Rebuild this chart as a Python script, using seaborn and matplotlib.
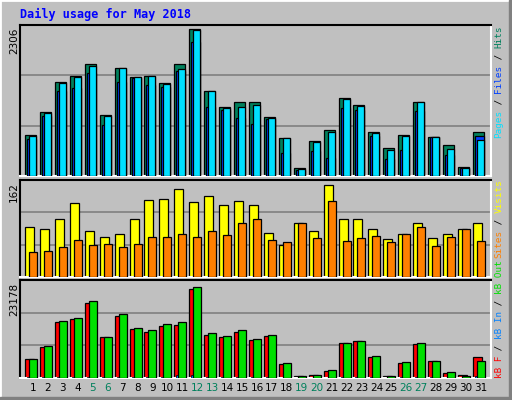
import matplotlib
matplotlib.use("Agg")
import matplotlib.pyplot as plt
import seaborn as sns
import numpy as np
from matplotlib.patches import Rectangle

sns.set_style("white")

days = list(range(1, 32))
weekend = [5, 6, 12, 13, 19, 20, 26, 27]
hits = [645,1001,1478,1567,1756,954,1693,1552,1567,1457,1756,2306,1336,1080,1159,1168,932,593,130,555,728,1231,1111,696,445,649,1168,618,492,146,696]
files = [624,986,1457,1552,1724,938,1693,1552,1567,1442,1677,2290,1336,1064,1080,1121,916,593,115,539,696,1215,1105,681,413,634,1168,618,429,130,571]
pages = [582,938,1336,1379,1614,797,1473,1536,1426,1394,1646,2102,1080,1033,907,817,896,362,94,393,283,1069,1037,629,267,409,1022,613,330,126,634]
visits = [88,85,101,130,80,71,76,101,136,137,155,132,143,127,134,127,78,57,94,81,162,101,102,85,67,76,94,69,76,85,95]
sites = [44,46,53,65,57,58,53,58,71,71,76,71,81,74,95,102,65,62,95,69,134,64,69,72,62,76,87,55,71,85,64]
kb_f = [4900,7795,14295,14904,19119,10334,15818,12365,11756,13279,13533,22673,10994,10486,11756,9572,10740,3631,432,838,1853,8810,9318,5256,432,3885,8556,4392,1346,686,5256]
kb_out = [4900,8049,14548,15158,19627,10486,16326,12619,12263,13787,14295,23178,11502,10740,12263,9826,10994,3885,432,838,2107,8963,9470,5510,584,4139,8963,4392,1600,584,4392]
kb_in = [200,300,300,300,300,200,300,300,300,300,700,700,300,300,300,300,200,100,100,100,100,300,300,200,100,200,300,200,100,100,600]
labels_max = ["2306", "162", "23178"]

BG = "#C0C0C0"
W, H = 512, 400
fig = plt.figure(figsize=(W/100, H/100), dpi=100, facecolor=BG)
# outer 3D frame
fig.patches.append(Rectangle((0, 0), 1, 1, transform=fig.transFigure, fill=False, ec="white", lw=2))
fig.patches.append(Rectangle((0, 0), 1, 3/H, transform=fig.transFigure, color="#808080"))
fig.patches.append(Rectangle((1-3/W, 0), 3/W, 1, transform=fig.transFigure, color="#808080"))

PX = 14.93
x = np.array(days, dtype=float)
x0 = x - 8/PX  # group left edge
xl = (1 - 13/PX, 1 + (491-33)/PX)

def make_ax(top, bottom):
    ax = fig.add_axes([20/W, 1-bottom/H, 471/W, (bottom-top)/H])
    ax.set_facecolor(BG)
    ax.set_xlim(*xl)
    ax.set_xticks([]); ax.set_yticks([])
    for s in ["top", "left"]:
        ax.spines[s].set_color("black")
    for s in ["bottom", "right"]:
        ax.spines[s].set_color("white")
    for s in ax.spines.values():
        s.set_linewidth(1.5)
    return ax

lw = 0.9
ax1 = make_ax(25, 176)
ym = 2306*151/146.7
ax1.set_ylim(0, ym)
for g in (ym/3, 2*ym/3):
    ax1.axhline(g, color="#808080", lw=1.2, zorder=0)
ax1.bar(x0, hits, width=11/PX, align="edge", color="#00805C", ec="black", lw=lw, zorder=2)
ax1.bar(x0+2/PX, pages, width=9/PX, align="edge", color="#0040FF", ec="black", lw=lw, zorder=3)
ax1.bar(x0+4/PX, files, width=7/PX, align="edge", color="#00E0FF", ec="black", lw=lw, zorder=4)

ax2 = make_ax(180, 277)
ym = 162*97/92.3
ax2.set_ylim(0, ym)
for g in (ym/3, 2*ym/3):
    ax2.axhline(g, color="#808080", lw=1.2, zorder=0)
ax2.bar(x0, visits, width=9/PX, align="edge", color="#FFFF00", ec="black", lw=lw, zorder=2)
ax2.bar(x0+4/PX, sites, width=8/PX, align="edge", color="#FF8000", ec="black", lw=lw, zorder=3)

ax3 = make_ax(280, 378)
ym = 23178*98/91.3
ax3.set_ylim(0, ym)
for g in (ym/3, 2*ym/3):
    ax3.axhline(g, color="#808080", lw=1.2, zorder=0)
ax3.bar(x0, kb_f, width=9/PX, align="edge", color="#FF0000", ec="black", lw=lw, zorder=2)
ax3.bar(x0+2/PX, kb_in, width=2/PX, align="edge", color="#0080FF", ec="black", lw=0.5, zorder=3)
ax3.bar(x0+4/PX, kb_out, width=8/PX, align="edge", color="#00E000", ec="black", lw=lw, zorder=4)

# day labels
for d in days:
    fig.text((33 + (d-1)*PX)/W, 1-388/H, str(d), ha="center", va="center",
             fontsize=7.5, color="#00805C" if d in weekend else "black", family="DejaVu Sans")

# title
fig.text(20/W, 1-14/H, "Daily usage for May 2018", color="#0000FF", fontsize=8.5,
         fontweight="bold", family="DejaVu Sans Mono", va="center", ha="left")

# left max labels
for lab, ytop in zip(labels_max, [28, 182, 283]):
    fig.text(14/W, 1-ytop/H, lab, rotation=90, ha="center", va="top", fontsize=7.5, color="black")

# right colored labels (rotated, bottom to top)
CH = 5.6
def right_label(chunks, ystart):
    y = ystart
    for txt, col in chunks:
        fig.text(499/W, 1-y/H, txt, rotation=90, ha="center", va="bottom", fontsize=CH*72/100/0.602,
                 color=col, family="DejaVu Sans Mono")
        y -= len(txt)*CH

right_label([("Pages", "#00E0FF"), (" / ", "black"), ("Files", "#0040FF"), (" / ", "black"), ("Hits", "#00805C")], 138)
right_label([("Sites", "#FF8000"), (" / ", "black"), ("Visits", "#FFFF00")], 258)
right_label([("kB F", "#FF0000"), (" / ", "black"), ("kB In", "#0080FF"), (" / ", "black"), ("kB Out", "#00E000")], 378)

fig.savefig("out.png", dpi=100, facecolor=BG)
